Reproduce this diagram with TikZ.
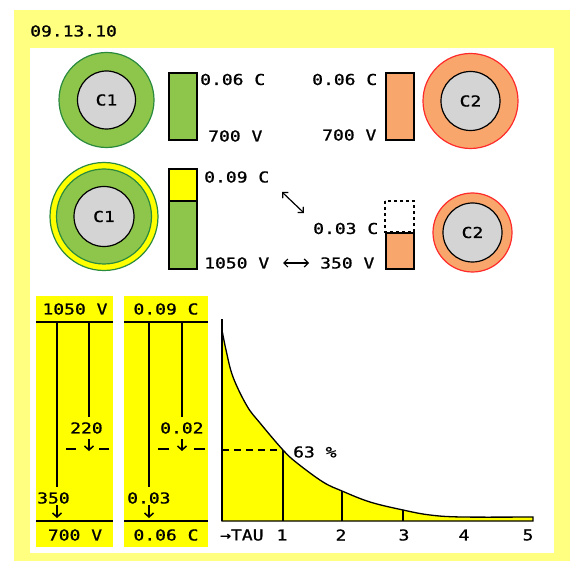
\documentclass[tikz,border=0pt]{standalone}
\usepackage{fontspec}
\setmainfont{DejaVu Sans Mono}[FakeStretch=1.2,FakeBold=1]
\usepackage{tikz}
\usetikzlibrary{arrows.meta,positioning}
\definecolor{frameyel}{HTML}{FFFF80}
\definecolor{panelyel}{HTML}{FFFF00}
\definecolor{cgreen}{HTML}{8DC64B}
\definecolor{cgreenline}{HTML}{2A8A3E}
\definecolor{corange}{HTML}{F9A66C}
\definecolor{credline}{HTML}{FF2A2A}
\definecolor{coregrey}{HTML}{D4D4D4}
\tikzset{
  lbl/.style={inner sep=0pt,anchor=west},
  clbl/.style={inner sep=0pt},
  coredisc/.style={circle,draw=black,fill=coregrey,line width=1.2pt,inner sep=0pt,minimum size=#1},
  gring/.style={circle,draw=cgreenline,fill=cgreen,line width=1.2pt,inner sep=0pt,minimum size=#1},
  oring/.style={circle,draw=credline,fill=corange,line width=1.2pt,inner sep=0pt,minimum size=#1},
  barbox/.style={draw=black,line width=1.6pt},
  pline/.style={draw=black,line width=1.5pt},
  darr/.style={{Straight Barb[length=4pt,width=8pt]}-{Straight Barb[length=4pt,width=8pt]},line width=1.2pt},
  downarr/.style={-{Straight Barb[length=4pt,width=9pt]},line width=1.5pt}
}
\begin{document}
\begin{tikzpicture}[x=1pt,y=-1pt,font=\fontsize{15}{15}\selectfont]
  \useasboundingbox (0,0) rectangle (570,561);
  \fill[frameyel] (14,10) rectangle (570,561);
  \fill[white] (30,48) rectangle (554,553);
  \node[lbl] (date) at (30,31) {09.13.10};

  % before: both charged to 700 V
  \node[gring=95] (c1ring) at (106.5,100) {};
  \node[coredisc=58] (c1) at (c1ring) {C1};
  \draw[barbox,fill=cgreen] (169,73) rectangle (197,140);
  \node[lbl] (q1) at (200,79.5) {0.06 C};
  \node[lbl] (u1) at (208,136) {700 V};

  \node[oring=95] (c2ring) at (470.5,101) {};
  \node[coredisc=59] (c2) at (c2ring) {C2};
  \draw[barbox,fill=corange] (386,73) rectangle (414,140);
  \node[lbl] (q2) at (312,79.5) {0.06 C};
  \node[lbl] (u2) at (322,135) {700 V};

  % after: charge moved from C2 to C1
  \node[circle,draw=cgreenline,fill=panelyel,line width=1.2pt,inner sep=0pt,minimum size=108] (c1yel) at (104,216.5) {};
  \node[gring=95] (c1ringb) at (c1yel) {};
  \node[coredisc=60] (c1b) at (c1yel) {C1};
  \draw[barbox,fill=panelyel] (169,169) rectangle (197,201);
  \draw[barbox,fill=cgreen] (169,201) rectangle (197,269);
  \node[lbl] (q1b) at (204,177) {0.09 C};
  \node[lbl] (u1b) at (204,263) {1050 V};

  \node[oring=79] (c2ringb) at (472.5,232.5) {};
  \node[coredisc=59] (c2b) at (c2ringb) {C2};
  \draw[line width=1.3pt,dashed] (385,201) rectangle (414,232);
  \draw[barbox,fill=corange] (386,233) rectangle (414,269);
  \node[lbl] (q2b) at (313,228.5) {0.03 C};
  \node[lbl] (u2b) at (320,263) {350 V};
  \coordinate (swapa) at (283,263);
  \coordinate (swapb) at (309,263);
  \draw[darr] (swapa) -- (swapb);
  \coordinate (qa) at (282,192);
  \coordinate (qb) at (304,213);
  \draw[darr] (qa) -- (qb);

  % voltage column
  \fill[panelyel] (36,296) rectangle (113,547);
  \node[clbl] (vtop) at (75,309) {1050 V};
  \node[clbl] (vbot) at (75,535) {700 V};
  \draw[pline] (36,322) -- (113,322);
  \draw[pline] (36,521) -- (113,521);
  \node[lbl] (v350) at (37,498) {350};
  \node[lbl] (v220) at (70,428) {220};
  \draw[pline] (57,323) -- (57,487);
  \draw[pline] (89,323) -- (89,417);
  \coordinate (v350a) at (57,505);
  \coordinate (v350b) at (57,518);
  \draw[downarr] (v350a) -- (v350b);
  \coordinate (v220a) at (89,439);
  \coordinate (v220b) at (89,451);
  \draw[downarr] (v220a) -- (v220b);
  \draw[pline] (66,449) -- (76,449) (99,449) -- (109,449);

  % charge column
  \fill[panelyel] (124,296) rectangle (208,547);
  \node[clbl] (qtop) at (166,309) {0.09 C};
  \node[clbl] (qbot) at (166,535) {0.06 C};
  \draw[pline] (124,322) -- (208,322);
  \draw[pline] (124,521) -- (208,521);
  \node[lbl] (q003) at (127,498) {0.03};
  \node[lbl] (q002) at (160,428) {0.02};
  \draw[pline] (149,323) -- (149,487);
  \draw[pline] (182,323) -- (182,417);
  \coordinate (q003a) at (149,505);
  \coordinate (q003b) at (149,518);
  \draw[downarr] (q003a) -- (q003b);
  \coordinate (q002a) at (182,439);
  \coordinate (q002b) at (182,451);
  \draw[downarr] (q002a) -- (q002b);
  \draw[pline] (158,449) -- (169,449) (194,449) -- (205,449);

  % decay curve
  \filldraw[fill=panelyel,draw=black,line width=1.3pt]
    (222,521) -- (222,330) -- plot[smooth,tension=0.6] coordinates {(222,330) (226,350) (233,377) (247,406) (260,423)
      (283,450) (297,463) (323,482) (342,491) (370,502) (403,510) (430,515) (462,517) (533,517)}
    -- (533,521) -- cycle;
  \draw[line width=2pt] (222,319) -- (222,521);
  \foreach \xx/\yy in {283/450,342/491,403/510}
    \draw[line width=1.3pt] (\xx,521) -- (\xx,\yy);
  \coordinate (tau1) at (283,450);
  \coordinate (tau1y) at (222,450);
  \draw[line width=1.3pt,dash pattern=on 7pt off 5pt] (tau1y) -- (tau1);
  \node[lbl] (pct) at (293,452) {63 \%};
  \node[lbl] (tau) at (220,535) {→TAU};
  \foreach \n/\xx in {1/282,2/341,3/404,4/464,5/528}
    \node[clbl] (tick\n) at (\xx,535) {\n};
\end{tikzpicture}
\end{document}
